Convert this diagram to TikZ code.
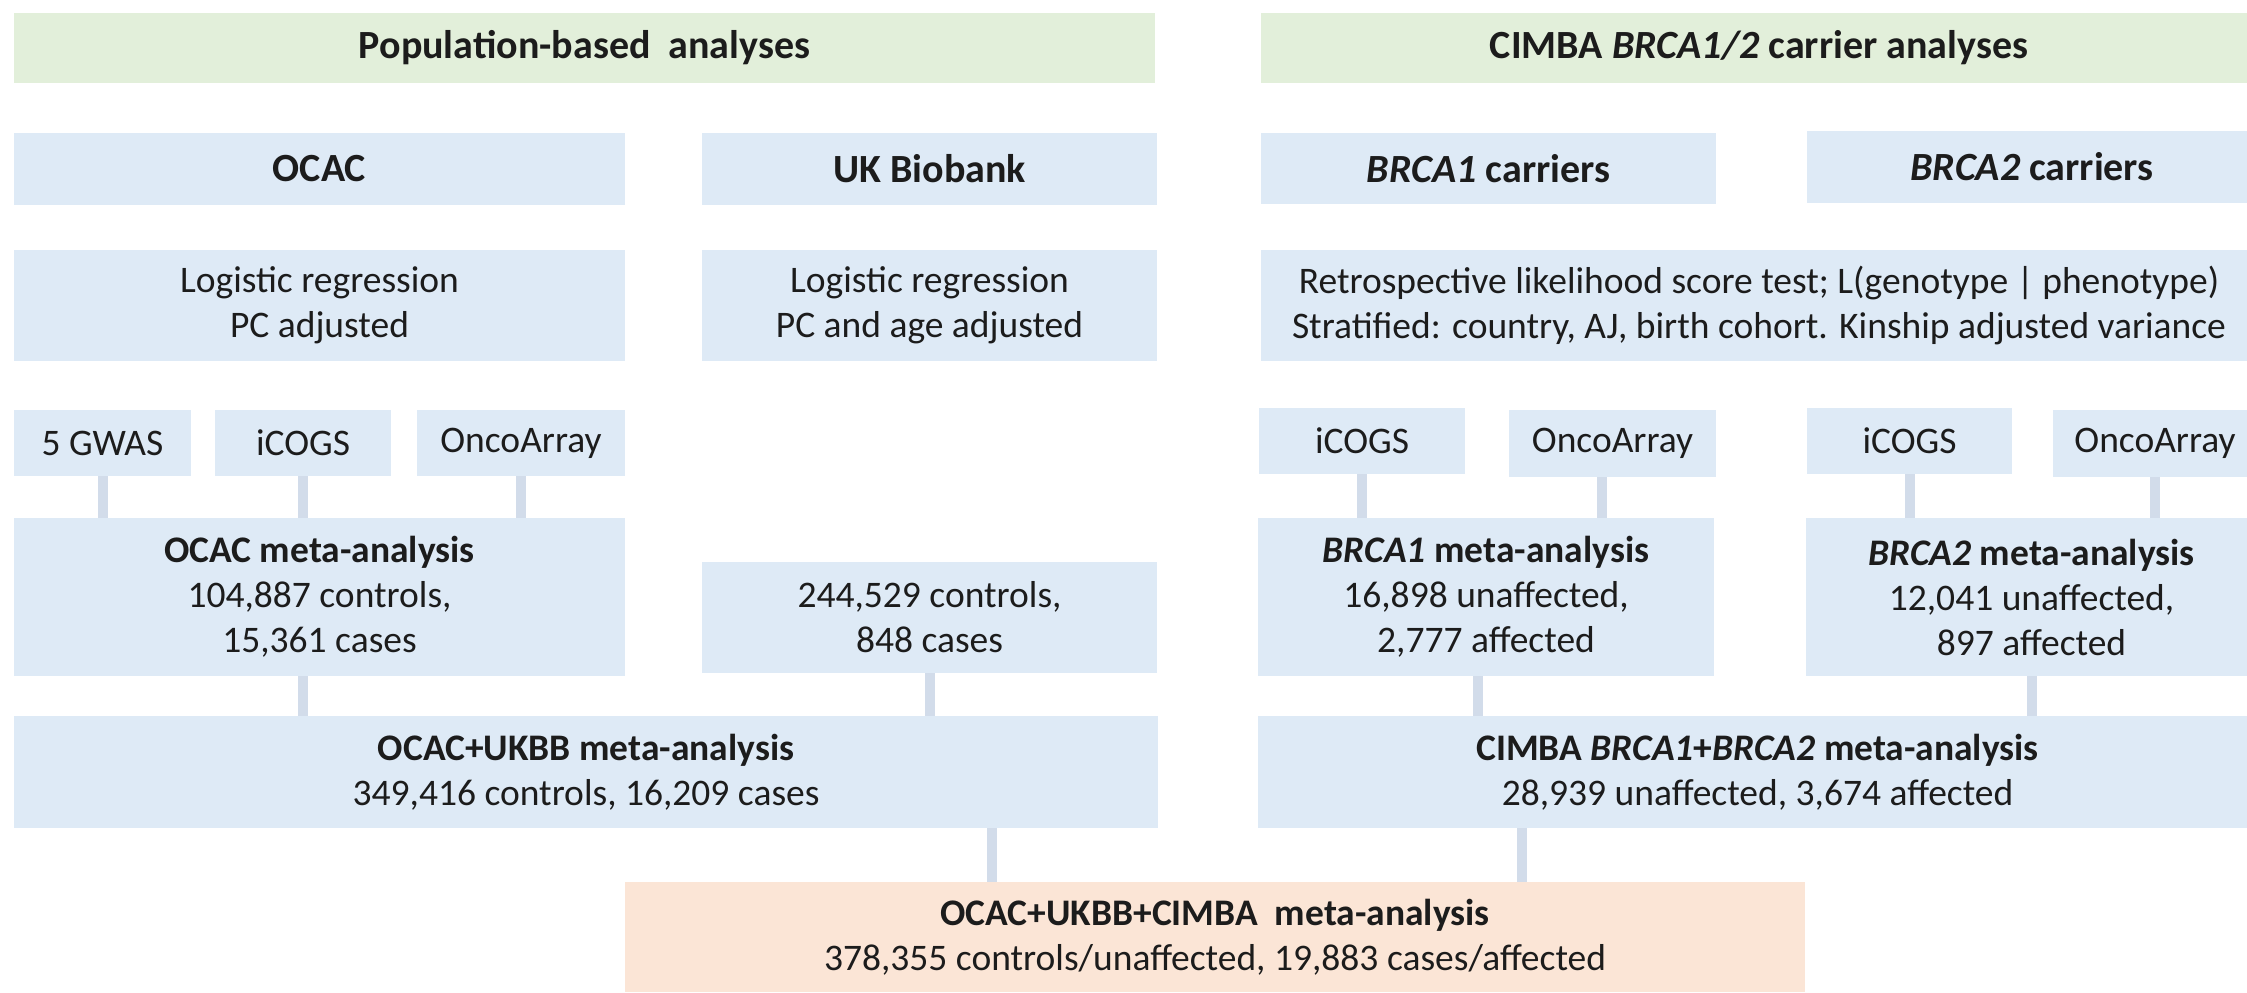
\documentclass[tikz,border=0pt]{standalone}
\usepackage{fontspec}
\setmainfont{Carlito}
\definecolor{boxblue}{RGB}{222,234,246}
\definecolor{boxgreen}{RGB}{226,239,218}
\definecolor{boxpeach}{RGB}{251,229,214}
\definecolor{conncol}{RGB}{210,220,234}
\definecolor{txt}{RGB}{28,28,28}
\tikzset{
  bx/.style={anchor=north west, inner sep=0pt, outer sep=0pt, fill=boxblue, align=center, text=txt, font=\fontsize{37.5}{45}\selectfont},
  hd/.style={bx, font=\fontsize{40}{46}\selectfont\bfseries},
  conn/.style={draw=conncol, line width=10pt}
}
\begin{document}
\begin{tikzpicture}[x=1pt,y=-1pt]
\useasboundingbox (0,0) rectangle (2247,993);
\clip (0,0) rectangle (2247,993);
% titles
\node[hd, fill=boxgreen, minimum width=1141pt, minimum height=70pt] (popT) at (14,13) {Population-based\ \ analyses};
\node[hd, fill=boxgreen, minimum width=996pt, minimum height=70pt] (cimT) at (1261,13) {CIMBA \textit{BRCA1/2} carrier analyses};
% row 2
\node[hd, minimum width=611pt, minimum height=72pt] (ocac) at (14,133) {OCAC};
\node[hd, minimum width=455pt, minimum height=72pt] (ukb) at (702,133) {UK Biobank};
\node[hd, minimum width=455pt, minimum height=71pt] (brcaA) at (1261,133) {\textit{BRCA1} carriers};
\node[hd, minimum width=450pt, minimum height=72pt] (brcaB) at (1807,131) {\textit{BRCA2} carriers};
% row 3
\node[bx, minimum width=611pt, minimum height=111pt] (logA) at (14,250) {Logistic regression\\PC adjusted};
\node[bx, minimum width=455pt, minimum height=111pt] (logB) at (702,250) {Logistic regression\\PC and age adjusted};
\node[bx, minimum width=996pt, minimum height=111pt] (retro) at (1261,250) {Retrospective likelihood score test; L(genotype | phenotype)\\Stratified: country, AJ, birth cohort. Kinship adjusted variance};
% row 4
\node[bx, minimum width=177pt, minimum height=66pt] (gwas) at (14,410) {5 GWAS};
\node[bx, minimum width=176pt, minimum height=66pt] (icogsA) at (215,410) {iCOGS};
\node[bx, minimum width=208pt, minimum height=66pt] (oncoA) at (417,410) {OncoArray};
\node[bx, minimum width=206pt, minimum height=66pt] (icogsB) at (1259,408) {iCOGS};
\node[bx, minimum width=207pt, minimum height=67pt] (oncoB) at (1509,410) {OncoArray};
\node[bx, minimum width=205pt, minimum height=66pt] (icogsC) at (1807,408) {iCOGS};
\node[bx, minimum width=204pt, minimum height=67pt] (oncoC) at (2053,410) {OncoArray};
% row 5
\node[bx, minimum width=611pt, minimum height=158pt] (ocacmeta) at (14,518) {\textbf{OCAC meta-analysis}\\104,887 controls,\\15,361 cases};
\node[bx, minimum width=455pt, minimum height=111pt] (ukbmeta) at (702,562) {244,529 controls,\\848 cases};
\node[bx, minimum width=456pt, minimum height=158pt] (bAmeta) at (1258,518) {\textbf{\textit{BRCA1} meta-analysis}\\16,898 unaffected,\\2,777 affected};
\node[bx, minimum width=451pt, minimum height=158pt] (bBmeta) at (1806,518) {\textbf{\textit{BRCA2} meta-analysis}\\12,041 unaffected,\\897 affected};
% row 6
\node[bx, minimum width=1144pt, minimum height=112pt] (popmeta) at (14,716) {\textbf{OCAC+UKBB meta-analysis}\\349,416 controls, 16,209 cases};
\node[bx, minimum width=999pt, minimum height=112pt] (cimmeta) at (1258,716) {\textbf{CIMBA \textit{BRCA1}+\textit{BRCA2} meta-analysis}\\28,939 unaffected, 3,674 affected};
% final
\node[bx, fill=boxpeach, minimum width=1180pt, minimum height=110pt] (final) at (625,882) {\textbf{OCAC+UKBB+CIMBA\ \ meta-analysis}\\378,355 controls/unaffected, 19,883 cases/affected};
% connectors
\draw[conn] (gwas.south) -- (gwas.south |- ocacmeta.north);
\draw[conn] (icogsA.south) -- (icogsA.south |- ocacmeta.north);
\draw[conn] (oncoA.south) -- (oncoA.south |- ocacmeta.north);
\draw[conn] (icogsB.south) -- (icogsB.south |- bAmeta.north);
\draw[conn] ([xshift=-11pt]oncoB.south) -- ([xshift=-11pt]oncoB.south |- bAmeta.north);
\draw[conn] (icogsC.south) -- (icogsC.south |- bBmeta.north);
\draw[conn] (oncoC.south) -- (oncoC.south |- bBmeta.north);
\draw[conn] (icogsA.south |- ocacmeta.south) -- (icogsA.south |- popmeta.north);
\draw[conn] (ukbmeta.south) -- (ukbmeta.south |- popmeta.north);
\draw[conn] ([xshift=-8pt]bAmeta.south) -- ([xshift=-8pt]bAmeta.south |- cimmeta.north);
\draw[conn] (bBmeta.south) -- (bBmeta.south |- cimmeta.north);
\draw[conn] ([xshift=367pt]final.north west |- popmeta.south) -- ([xshift=367pt]final.north west);
\draw[conn] ([xshift=-283pt]final.north east |- cimmeta.south) -- ([xshift=-283pt]final.north east);
\end{tikzpicture}
\end{document}
